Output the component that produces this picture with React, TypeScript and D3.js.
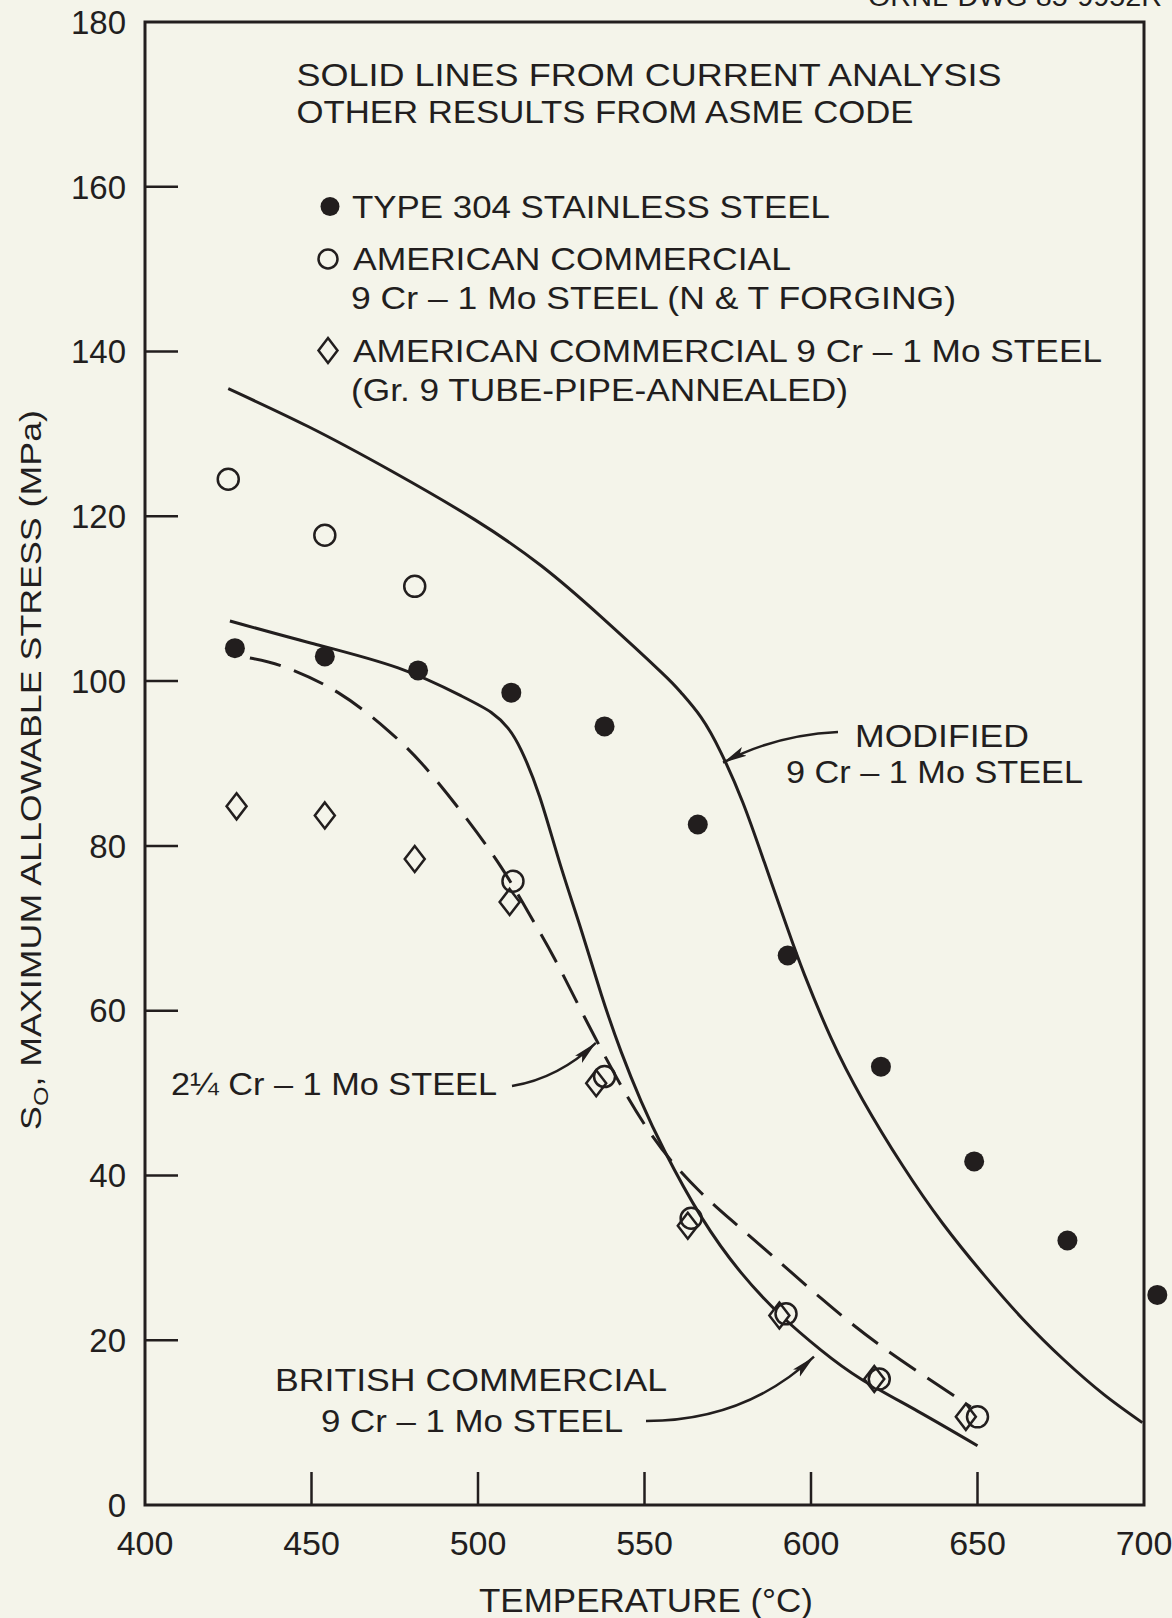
import React from "react";
import * as d3 from "d3";

const W = 1172;
const H = 1618;
const INK = "#221e1e";
const BG = "#f4f4ea";
const FONT = "'Liberation Sans', Arial, Helvetica, sans-serif";

// axis ticks
const xTickValues = [400, 450, 500, 550, 600, 650, 700];
const xInnerTicks = [450, 500, 550, 600, 650];
const yTickValues = [0, 20, 40, 60, 80, 100, 120, 140, 160, 180];
const yInnerTicks = [20, 40, 60, 80, 100, 120, 140, 160];

// Type 304 stainless steel (filled circles)
const type304Temp = [427, 454, 482, 510, 538, 566, 593, 621, 649, 677, 704];
const type304Stress = [104.0, 103.0, 101.3, 98.6, 94.5, 82.6, 66.7, 53.2, 41.7, 32.1, 25.5];

// American commercial 9Cr-1Mo N&T forging (open circles)
const ntTemp = [425, 454, 481, 510.5, 538, 564, 592.5, 620.5, 650];
const ntStress = [124.5, 117.7, 111.5, 75.7, 52.0, 34.8, 23.2, 15.3, 10.7];

// American commercial 9Cr-1Mo Gr.9 tube-pipe annealed (diamonds)
const gr9Temp = [427.5, 454, 481, 509.5, 535.5, 563, 590.5, 619, 646.5];
const gr9Stress = [84.8, 83.7, 78.4, 73.2, 51.2, 33.9, 23.0, 15.3, 10.7];

// Modified 9Cr-1Mo steel (solid curve)
const modTemp = [425, 449, 474, 499, 519, 537, 555, 561, 567, 573, 579.5, 586, 593, 598, 606, 615.5, 627.5, 639.5, 652, 664, 676, 688, 699.5];
const modStress = [135.5, 130.9, 125.5, 119.6, 114.0, 107.8, 101.1, 98.6, 95.6, 91.3, 85.3, 78.0, 69.9, 64.4, 56.7, 49.2, 41.2, 34.2, 27.9, 22.4, 17.6, 13.4, 10.0];

// British commercial 9Cr-1Mo steel (solid curve)
const britTemp = [425.5, 450, 476, 495, 504, 509, 513, 518.5, 524.5, 531, 537, 543, 549, 556, 567, 579, 591, 603, 615, 632, 650];
const britStress = [107.3, 104.6, 101.6, 98.2, 96.2, 94.3, 91.6, 86.0, 78.0, 69.8, 62.0, 55.0, 49.0, 43.0, 35.0, 28.2, 23.0, 18.8, 15.3, 11.4, 7.2];

// 2 1/4 Cr-1Mo steel (dashed curve)
const crTemp = [431.5, 442, 458, 473, 484, 496, 507, 515, 523, 532, 542, 550, 558, 567, 576, 588, 603, 620, 638, 648];
const crStress = [102.8, 101.7, 98.6, 94.0, 89.6, 83.6, 77.4, 72.0, 66.3, 59.2, 51.6, 46.2, 41.8, 37.9, 34.6, 30.4, 25.1, 19.6, 14.6, 11.9];

// annotation arrow tips (data units)
const modArrowTip: [number, number] = [573.6, 90.1];
const crArrowTip: [number, number] = [535.4, 56.1];
const britArrowTip: [number, number] = [600.9, 18.0];

const zip = (a: number[], b: number[]): [number, number][] => a.map((t, i) => [t, b[i]]);

function Txt(props: { x: number; cy: number; len?: number; size: number; anchor?: string; children: React.ReactNode }) {
  const { x, cy, len, size, anchor, children } = props;
  return (
    <text
      x={x}
      y={cy + 0.358 * size}
      fontSize={size}
      textAnchor={anchor || "start"}
      fill={INK}
      textLength={len}
      lengthAdjust={len ? "spacingAndGlyphs" : undefined}
    >
      {children}
    </text>
  );
}

export default function App() {
  const x = d3.scaleLinear().domain([400, 700]).range([145, 1144]);
  const y = d3.scaleLinear().domain([0, 180]).range([1505, 22]);
  const line = d3
    .line<[number, number]>()
    .x((d) => x(d[0]))
    .y((d) => y(d[1]))
    .curve(d3.curveNatural);

  const diamond = (cx: number, cy: number, hw = 10, hh = 13) =>
    `M${cx},${cy - hh}L${cx + hw},${cy}L${cx},${cy + hh}L${cx - hw},${cy}Z`;

  const mt = [x(modArrowTip[0]), y(modArrowTip[1])];
  const ct = [x(crArrowTip[0]), y(crArrowTip[1])];
  const bt = [x(britArrowTip[0]), y(britArrowTip[1])];

  return (
    <svg
      width={W}
      height={H}
      viewBox={`0 0 ${W} ${H}`}
      style={{ position: "absolute", left: 0, top: 0, display: "block" }}
      fontFamily={FONT}
    >
      <defs>
        <marker id="arr" markerUnits="userSpaceOnUse" markerWidth={26} markerHeight={12} refX={24} refY={6} orient="auto">
          <path d="M0,1 L24,6 L0,11 L5,6 Z" fill={INK} />
        </marker>
      </defs>
      <rect x={0} y={0} width={W} height={H} fill={BG} />

      {/* header (cropped at page top, as in the source scan) */}
      <text x={868} y={6} fontSize={28} fill={INK} textLength={294} lengthAdjust="spacingAndGlyphs">
        ORNL-DWG 85-9952R
      </text>

      {/* frame */}
      <rect x={x(400)} y={y(180)} width={x(700) - x(400)} height={y(0) - y(180)} fill="none" stroke={INK} strokeWidth={3} />
      {yInnerTicks.map((v) => (
        <line key={"yt" + v} x1={x(400)} x2={x(400) + 33} y1={y(v)} y2={y(v)} stroke={INK} strokeWidth={2.5} />
      ))}
      {xInnerTicks.map((t) => (
        <line key={"xt" + t} x1={x(t)} x2={x(t)} y1={y(0)} y2={y(0) - 33} stroke={INK} strokeWidth={2.5} />
      ))}

      {/* tick labels */}
      {yTickValues.map((v) => (
        <Txt key={"yl" + v} x={126} cy={y(v)} size={33} anchor="end">
          {String(v)}
        </Txt>
      ))}
      {xTickValues.map((t) => (
        <Txt key={"xl" + t} x={x(t)} cy={1543} size={34} anchor="middle">
          {String(t)}
        </Txt>
      ))}

      {/* axis titles */}
      <Txt x={646} cy={1600} size={33} anchor="middle" len={334}>
        TEMPERATURE (°C)
      </Txt>
      <text
        transform="translate(41,770) rotate(-90)"
        fontSize={30}
        textAnchor="middle"
        fill={INK}
        textLength={720}
        lengthAdjust="spacingAndGlyphs"
      >
        S<tspan dy={7} fontSize={21}>O</tspan>
        <tspan dy={-7}>, MAXIMUM ALLOWABLE STRESS (MPa)</tspan>
      </text>

      {/* curves */}
      <path d={line(zip(modTemp, modStress)) || ""} fill="none" stroke={INK} strokeWidth={3} />
      <path d={line(zip(britTemp, britStress)) || ""} fill="none" stroke={INK} strokeWidth={3} />
      <path d={line(zip(crTemp, crStress)) || ""} fill="none" stroke={INK} strokeWidth={3} strokeDasharray="32 14" />

      {/* points */}
      {gr9Temp.map((t, i) => (
        <path key={"d" + i} d={diamond(x(t), y(gr9Stress[i]))} fill={BG} stroke={INK} strokeWidth={2.5} />
      ))}
      {ntTemp.map((t, i) => (
        <circle key={"o" + i} cx={x(t)} cy={y(ntStress[i])} r={10.5} fill="none" stroke={INK} strokeWidth={2.5} />
      ))}
      {type304Temp.map((t, i) => (
        <circle key={"f" + i} cx={x(t)} cy={y(type304Stress[i])} r={10} fill={INK} />
      ))}

      {/* title & legend */}
      <Txt x={296.5} cy={74.5} size={32} len={705}>SOLID LINES FROM CURRENT ANALYSIS</Txt>
      <Txt x={296.5} cy={111.5} size={32} len={617}>OTHER RESULTS FROM ASME CODE</Txt>

      <circle cx={330} cy={206.5} r={9.5} fill={INK} />
      <Txt x={352} cy={206.5} size={32} len={478}>TYPE 304 STAINLESS STEEL</Txt>

      <circle cx={328} cy={259} r={9.5} fill="none" stroke={INK} strokeWidth={2.5} />
      <Txt x={353} cy={259} size={32} len={438}>AMERICAN COMMERCIAL</Txt>
      <Txt x={351} cy={298} size={32} len={605}>9 Cr – 1 Mo STEEL (N &amp; T FORGING)</Txt>

      <path d={diamond(328, 350.5, 9.5, 12.5)} fill="none" stroke={INK} strokeWidth={2.5} />
      <Txt x={353} cy={350.5} size={32} len={749}>AMERICAN COMMERCIAL 9 Cr – 1 Mo STEEL</Txt>
      <Txt x={351} cy={389.5} size={32} len={497}>(Gr. 9 TUBE-PIPE-ANNEALED)</Txt>

      {/* annotations */}
      <Txt x={855} cy={736} size={32} len={174}>MODIFIED</Txt>
      <Txt x={786} cy={772} size={32} len={297}>9 Cr – 1 Mo STEEL</Txt>
      <path d={`M838,732 Q775,735 ${mt[0]},${mt[1]}`} fill="none" stroke={INK} strokeWidth={2.5} markerEnd="url(#arr)" />

      <Txt x={171} cy={1084} size={32} len={326}>2¼ Cr – 1 Mo STEEL</Txt>
      <path d={`M512,1086 Q559,1078 ${ct[0]},${ct[1]}`} fill="none" stroke={INK} strokeWidth={2.5} markerEnd="url(#arr)" />

      <Txt x={275} cy={1380} size={32} len={392}>BRITISH COMMERCIAL</Txt>
      <Txt x={321} cy={1421} size={32} len={302}>9 Cr – 1 Mo STEEL</Txt>
      <path d={`M646,1421 Q745,1421 ${bt[0]},${bt[1]}`} fill="none" stroke={INK} strokeWidth={2.5} markerEnd="url(#arr)" />
    </svg>
  );
}
